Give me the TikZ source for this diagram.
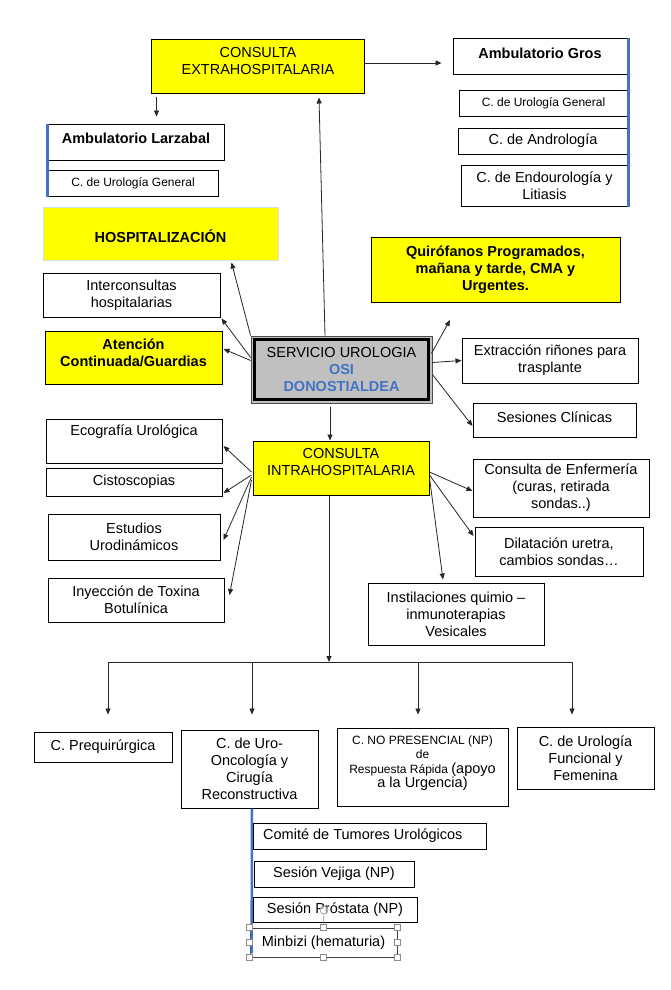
\documentclass[tikz,border=0pt]{standalone}
\usepackage{fontspec}
\setmainfont{Liberation Sans}
\usetikzlibrary{arrows.meta,calc}
\definecolor{ybox}{RGB}{255,255,0}
\definecolor{bl}{RGB}{68,114,196}
\definecolor{gr}{RGB}{192,192,192}
\definecolor{hb}{RGB}{205,225,232}
\newcommand\fN{\fontsize{14.5}{17}\selectfont}
\newcommand\fS{\fontsize{12}{14}\selectfont}
% #1 style, #2 name, #3 x1, #4 y1, #5 x2, #6 y2, #7 text
\newcommand\mybox[7]{%
 \pgfmathsetmacro\bw{#5-#3}\pgfmathsetmacro\bh{#6-#4}%
 \pgfmathsetmacro\cx{(#3+#5)/2}\pgfmathsetmacro\cy{(#4+#6)/2}%
 \node[#1, minimum width=\bw pt, minimum height=\bh pt] (#2) at (\cx,\cy) {#7};}
\begin{document}
\begin{tikzpicture}[x=1pt,y=-1pt,
 bx/.style={draw=black, line width=1pt, inner sep=0pt, align=center, font=\fN, fill=white},
 ybx/.style={bx, fill=ybox},
 txt/.style={inner sep=0pt, align=center, font=\fN},
 arr/.style={draw=black!85, line width=0.8pt, -{Triangle[length=6pt,width=5pt]}},
 blueline/.style={draw=bl, line width=2.5pt},
 handle/.style={draw=black!45, fill=white, line width=0.6pt, minimum size=6pt, inner sep=0pt},
]
\useasboundingbox[fill=white] (0,0) rectangle (670,990);

% ---------- top ----------
\mybox{ybx}{extra}{151}{40}{364}{93}{}
\node[txt] (textra) at (258,61) {CONSULTA\\EXTRAHOSPITALARIA};

\mybox{bx}{gros}{453}{39}{628}{74}{}
\node[txt, font=\fN\bfseries] (tgros) at (540,53) {Ambulatorio Gros};
\mybox{bx, font=\fS}{grosug}{459}{90}{628}{116}{C. de Urología General}
\mybox{bx}{andro}{458}{128}{628}{154}{C. de Andrología}
\mybox{bx}{endo}{461}{165}{628}{206}{C. de Endourología y\\Litiasis}
\draw[blueline] (gros.north east) -- (endo.south east);

\mybox{bx}{larz}{48}{124}{224}{160}{}
\node[txt, font=\fN\bfseries] (tlarz) at (136,138) {Ambulatorio Larzabal};
\mybox{bx, font=\fS}{larzug}{48}{170}{218}{196}{C. de Urología General}
\draw[blueline] (larz.north west) -- (larzug.south west);

% ---------- middle ----------
\mybox{bx, fill=ybox, draw=hb, font=\fN\bfseries}{hosp}{43}{207}{278}{260}{}
\node[txt, font=\fN\bfseries] (thosp) at (160.5,236) {HOSPITALIZACIÓN};
\mybox{bx}{inter}{43}{273}{220}{317}{Interconsultas\\hospitalarias}
\mybox{ybx}{aten}{45}{331}{222}{384}{}
\node[txt, font=\fN\bfseries] (taten) at (133.5,353) {Atención\\Continuada/Guardias};

\mybox{ybx, font=\fN\bfseries}{quir}{371}{237}{620}{302}{Quirófanos Programados,\\mañana y tarde, CMA y\\Urgentes.}

\mybox{draw=black!70, line width=0.8pt, fill=gr, inner sep=0pt}{serv}{251}{336}{432}{403}{}
\draw[line width=3pt] ($(serv.north west)+(4,4)$) rectangle ($(serv.south east)+(-4,-4)$);
\node[txt] (tserv) at (341.5,370) {SERVICIO UROLOGIA\\{\bfseries\color{bl}OSI}\\{\bfseries\color{bl}DONOSTIALDEA}};

\mybox{bx}{extr}{462}{338}{638}{383}{Extracción riñones para\\trasplante}
\mybox{bx}{ses}{473}{403}{636}{437}{}
\node[txt] (tses) at (554.5,417) {Sesiones Clínicas};

\mybox{ybx}{intra}{253}{441}{429}{495}{}
\node[txt] (tintra) at (341,462) {CONSULTA\\INTRAHOSPITALARIA};

\mybox{bx}{eco}{46}{419}{222}{463}{}
\node[txt] (teco) at (134,432) {Ecografía Urológica};
\mybox{bx}{cisto}{46}{468}{222}{496}{Cistoscopias}
\mybox{bx}{estud}{48}{514}{220}{560}{Estudios\\Urodinámicos}
\mybox{bx}{iny}{48}{578}{224}{622}{Inyección de Toxina\\Botulínica}

\mybox{bx}{enf}{473}{459}{649}{517}{Consulta de Enfermería\\(curas, retirada\\sondas..)}
\mybox{bx}{dilat}{475}{527}{643}{576}{Dilatación uretra,\\cambios sondas…}
\mybox{bx}{instil}{368}{583}{544}{645}{Instilaciones quimio –\\inmunoterapias\\Vesicales}

% ---------- bottom ----------
\mybox{bx}{preq}{34}{732}{172}{762}{C. Prequirúrgica}
\mybox{bx}{uro}{181}{730}{318}{808}{C. de Uro-\\Oncología y\\Cirugía\\Reconstructiva}
\mybox{bx}{nopres}{337}{728}{508}{806}{}
\node[txt, font=\fS] (tnopres) at (422.5,763) {\fontsize{12}{12}\selectfont C. NO PRESENCIAL (NP)\\de\\[1pt]\fontsize{12}{14}\selectfont Respuesta Rápida {\fN(apoyo}\\{\fN a la Urgencia)}};
\mybox{bx}{func}{517}{727}{654}{789}{C. de Urología\\Funcional y\\Femenina}

\mybox{bx}{comite}{253}{823}{486}{849}{}
\node[txt, anchor=west] (tcomite) at (263,836) {Comité de Tumores Urológicos};
\mybox{bx}{vejiga}{254}{861}{414}{887}{Sesión Vejiga (NP)}
\mybox{bx}{prost}{253}{897}{417}{922}{Sesión Próstata (NP)}
\mybox{bx, draw=black!75, line width=0.8pt}{minb}{250}{928}{397}{957}{Minbizi (hematuria)}
\draw[blueline] ($(uro.south)+(2.5,0)$) -- ($(minb.south west)+(2,-4)$);

% selection handles
\node[handle] (h1) at (minb.north west) {};
\node[handle] (h2) at (minb.north) {};
\node[handle] (h3) at (minb.north east) {};
\node[handle] (h4) at (minb.west) {};
\node[handle] (h5) at (minb.east) {};
\node[handle] (h6) at (minb.south west) {};
\node[handle] (h7) at (minb.south) {};
\node[handle] (h8) at (minb.south east) {};
\node[draw=black!45, fill=white, fill opacity=0.6, circle, minimum size=8pt, inner sep=0pt, line width=0.6pt] (hrot) at (324,910) {};
\draw[black!45, line width=0.6pt] (hrot) -- (h2);

% ---------- connectors ----------
\coordinate (qend) at (450,320);
\coordinate (junc) at (329,662);

\draw[arr] ($(extra.east)+(0,-3.5)$) -- ($(gros.west)+(-11,6.5)$);
\draw[arr] ($(extra.south west)+(6,3)$) -- ($(larz.north west)+(109,-7)$);
\draw[arr] ($(serv.north)+(-16.5,0)$) -- ($(extra.south)+(61.5,4)$);

\draw[arr] (serv.north west) -- ($(hosp.south west)+(189,2)$);
\draw[arr] ($(serv.west)+(0,-12)$) -- ($(inter.south east)+(1,1)$);
\draw[arr] ($(serv.west)+(0,-9)$) -- ($(aten.east)+(1,-8.5)$);
\draw[arr] ($(serv.east)+(-1,-16)$) -- (qend);
\draw[arr] ($(serv.east)+(0,-7)$) -- (extr.west);
\draw[arr] ($(serv.east)+(0,5)$) -- ($(ses.west)+(0,6)$);
\draw[arr] ($(serv.south)+(-11.5,4)$) -- ($(intra.north)+(-11,0)$);

\draw[arr] ($(intra.west)+(-1,4)$) -- ($(eco.east)+(1,5)$);
\draw[arr] ($(intra.west)+(-1,7)$) -- ($(cisto.east)+(1,11)$);
\draw[arr] ($(intra.west)+(-1,9)$) -- ($(estud.east)+(3,3)$);
\draw[arr] ($(intra.west)+(-1,12)$) -- ($(iny.east)+(5,-5)$);
\draw[arr] ($(intra.east)+(0,4)$) -- ($(enf.west)+(0,3)$);
\draw[arr] ($(intra.east)+(0,7)$) -- ($(dilat.west)+(-1,-15.5)$);
\draw[arr] ($(intra.east)+(0,10)$) -- ($(instil.north)+(-13,-3)$);

\draw[arr] ($(intra.south)+(-12,0)$) -- (junc);
\draw[arr] (junc) -| ($(preq.north)+(5,-17)$);
\draw[arr] (junc) -| ($(uro.north)+(2.5,-15)$);
\draw[arr] (junc) -| ($(nopres.north)+(-4.5,-13)$);
\draw[arr] (junc) -| ($(func.north)+(-13.5,-12)$);
\end{tikzpicture}
\end{document}
